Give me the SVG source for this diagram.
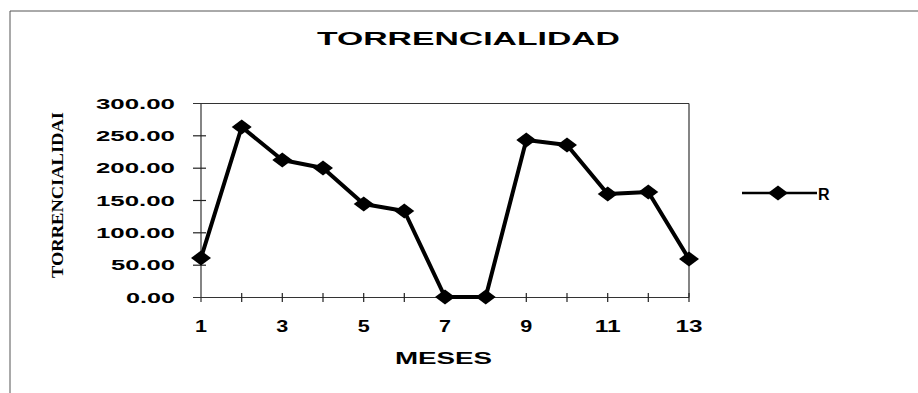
<svg xmlns="http://www.w3.org/2000/svg" width="918" height="393" viewBox="0 0 918 393">
<defs>
<style>
.b{font-family:"Liberation Sans",Arial,sans-serif;font-weight:bold;fill:#000}
.yl{font-size:15px;text-anchor:end}
.xl{font-size:17px;text-anchor:middle}
.fr{stroke:#333;stroke-width:1.2;fill:none}
.tk{stroke:#222;stroke-width:1.2}
.ser{stroke:#000;stroke-width:4;fill:none;stroke-linejoin:round}
</style>
<path id="dia" d="M-10,0 L0,-7.5 L10,0 L0,7.5 Z" fill="#000"/>
</defs>
<rect width="918" height="393" fill="#fff"/>
<g id="border">
<line x1="10" y1="11" x2="918" y2="11" stroke="#555" stroke-width="1"/>
<line x1="10" y1="11" x2="10" y2="393" stroke="#555" stroke-width="1"/>
</g>
<g id="title"><text class="b" x="468.5" y="45" font-size="19" text-anchor="middle" textLength="303" lengthAdjust="spacingAndGlyphs">TORRENCIALIDAD</text></g>
<g id="plot-frame">
<line class="fr" x1="193" y1="103.5" x2="689" y2="103.5"/>
<line class="fr" x1="689" y1="103.5" x2="689" y2="297.5"/>
<line class="fr" x1="193" y1="297.5" x2="689" y2="297.5"/>
<line class="fr" x1="201" y1="103.5" x2="201" y2="302"/>
</g>
<g id="y-ticks">
<line class="tk" x1="193" y1="135.8" x2="206" y2="135.8"/>
<line class="tk" x1="193" y1="168.2" x2="206" y2="168.2"/>
<line class="tk" x1="193" y1="200.5" x2="206" y2="200.5"/>
<line class="tk" x1="193" y1="232.8" x2="206" y2="232.8"/>
<line class="tk" x1="193" y1="265.2" x2="206" y2="265.2"/>
</g>
<g id="x-ticks">
<line class="tk" x1="241.7" y1="293" x2="241.7" y2="302"/>
<line class="tk" x1="282.3" y1="293" x2="282.3" y2="302"/>
<line class="tk" x1="323" y1="293" x2="323" y2="302"/>
<line class="tk" x1="363.7" y1="293" x2="363.7" y2="302"/>
<line class="tk" x1="404.3" y1="293" x2="404.3" y2="302"/>
<line class="tk" x1="445" y1="293" x2="445" y2="302"/>
<line class="tk" x1="485.7" y1="293" x2="485.7" y2="302"/>
<line class="tk" x1="526.3" y1="293" x2="526.3" y2="302"/>
<line class="tk" x1="567" y1="293" x2="567" y2="302"/>
<line class="tk" x1="607.7" y1="293" x2="607.7" y2="302"/>
<line class="tk" x1="648.3" y1="293" x2="648.3" y2="302"/>
<line class="tk" x1="689" y1="293" x2="689" y2="302"/>
</g>
<g id="y-labels">
<text class="b yl" x="175" y="108.5" textLength="79" lengthAdjust="spacingAndGlyphs">300.00</text>
<text class="b yl" x="175" y="140.8" textLength="79" lengthAdjust="spacingAndGlyphs">250.00</text>
<text class="b yl" x="175" y="173.2" textLength="79" lengthAdjust="spacingAndGlyphs">200.00</text>
<text class="b yl" x="175" y="205.5" textLength="79" lengthAdjust="spacingAndGlyphs">150.00</text>
<text class="b yl" x="175" y="237.8" textLength="79" lengthAdjust="spacingAndGlyphs">100.00</text>
<text class="b yl" x="175" y="270.2" textLength="64" lengthAdjust="spacingAndGlyphs">50.00</text>
<text class="b yl" x="175" y="302.5" textLength="49" lengthAdjust="spacingAndGlyphs">0.00</text>
</g>
<g id="x-labels">
<text class="b xl" x="201" y="332" textLength="12" lengthAdjust="spacingAndGlyphs">1</text>
<text class="b xl" x="282.3" y="332" textLength="12" lengthAdjust="spacingAndGlyphs">3</text>
<text class="b xl" x="363.7" y="332" textLength="12" lengthAdjust="spacingAndGlyphs">5</text>
<text class="b xl" x="445" y="332" textLength="12" lengthAdjust="spacingAndGlyphs">7</text>
<text class="b xl" x="526.3" y="332" textLength="12" lengthAdjust="spacingAndGlyphs">9</text>
<text class="b xl" x="607.7" y="332" textLength="26" lengthAdjust="spacingAndGlyphs">11</text>
<text class="b xl" x="689" y="332" textLength="27" lengthAdjust="spacingAndGlyphs">13</text>
</g>
<g id="x-title"><text class="b" x="443.5" y="363.5" font-size="16" text-anchor="middle" textLength="97" lengthAdjust="spacingAndGlyphs">MESES</text></g>
<g id="y-title"><text x="63" y="195" transform="rotate(-90 63 195)" font-family="'Liberation Serif','Times New Roman',serif" font-weight="bold" font-size="17" text-anchor="middle" textLength="166" lengthAdjust="spacingAndGlyphs" dy="0">TORRENCIALIDAI</text></g>
<g id="connectors">
<polyline class="ser" points="201,258 241.7,127 282.3,160 323,168 363.7,204 404.3,211 445,297 485.7,297 526.3,140 567,145 607.7,194 648.3,192 689,259"/>
</g>
<g id="markers">
<use href="#dia" x="201" y="258"/>
<use href="#dia" x="241.7" y="127"/>
<use href="#dia" x="282.3" y="160"/>
<use href="#dia" x="323" y="168"/>
<use href="#dia" x="363.7" y="204"/>
<use href="#dia" x="404.3" y="211"/>
<use href="#dia" x="445" y="297"/>
<use href="#dia" x="485.7" y="297"/>
<use href="#dia" x="526.3" y="140"/>
<use href="#dia" x="567" y="145"/>
<use href="#dia" x="607.7" y="194"/>
<use href="#dia" x="648.3" y="192"/>
<use href="#dia" x="689" y="259"/>
</g>
<g id="legend">
<line x1="742" y1="193" x2="817" y2="193" stroke="#000" stroke-width="2.5"/>
<use href="#dia" x="778" y="193"/>
<text class="b" x="818" y="200" font-size="16">R</text>
</g>
</svg>
